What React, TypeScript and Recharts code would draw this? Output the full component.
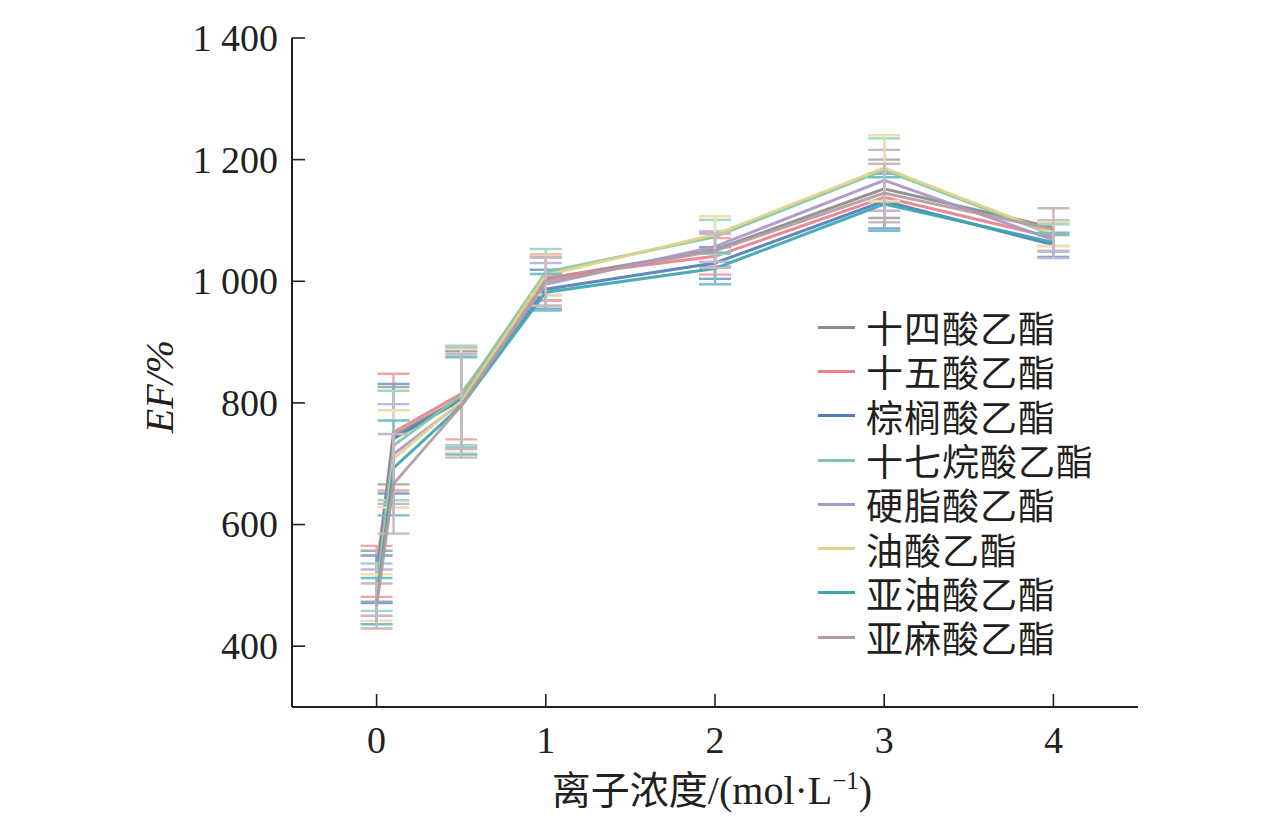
import React from 'react';
import { LineChart, Line, XAxis, YAxis, ErrorBar, Legend } from 'recharts';

// ion concentration (mol/L)
const concentrations = [0, 0.1, 0.5, 1, 2, 3, 4];

const seriesNames = [
  '十四酸乙酯',
  '十五酸乙酯',
  '棕榈酸乙酯',
  '十七烷酸乙酯',
  '硬脂酸乙酯',
  '油酸乙酯',
  '亚油酸乙酯',
  '亚麻酸乙酯',
];

const seriesColors = ['#8a8a8a', '#e8808a', '#4f7fb5', '#7fc7a8', '#a896c8', '#e2d18a', '#3aa6b2', '#b49aa2'];

// EF values
const c14 = [515, 746, 808, 1004, 1052, 1152, 1088];
const c15 = [523, 752, 815, 1006, 1041, 1138, 1072];
const c16 = [510, 741, 805, 987, 1030, 1132, 1060];
const c17 = [497, 730, 812, 1015, 1073, 1183, 1076];
const c18 = [488, 716, 800, 995, 1057, 1166, 1068];
const c181 = [480, 708, 803, 1010, 1077, 1186, 1078];
const c182 = [474, 693, 795, 982, 1021, 1127, 1064];
const c183 = [466, 667, 795, 1000, 1050, 1145, 1085];

// standard deviations
const e14 = [42, 80, 78, 35, 28, 48, 12];
const e15 = [42, 96, 75, 38, 30, 55, 22];
const e16 = [39, 90, 80, 32, 26, 45, 20];
const e17 = [39, 90, 82, 38, 28, 52, 18];
const e18 = [38, 82, 76, 35, 25, 50, 30];
const e181 = [38, 80, 85, 32, 30, 54, 20];
const e182 = [38, 78, 80, 30, 26, 44, 15];
const e183 = [37, 82, 85, 40, 28, 48, 35];

const xTicks = [0, 1, 2, 3, 4];
const yTicks = [400, 600, 800, 1000, 1200, 1400];

const values = [c14, c15, c16, c17, c18, c181, c182, c183];
const errors = [e14, e15, e16, e17, e18, e181, e182, e183];

const data = concentrations.map((x, i) => {
  const row: Record<string, number> = { x };
  values.forEach((v, s) => {
    row[`s${s}`] = v[i];
    row[`e${s}`] = errors[s][i];
  });
  return row;
});

const serif = '"Liberation Serif", "Times New Roman", serif';
const cjk = '"Noto Sans CJK SC", sans-serif';
const ink = '#231f20';

// paler tone for the error bars
const lighten = (hex: string, t: number) => {
  const n = parseInt(hex.slice(1), 16);
  const ch = [(n >> 16) & 255, (n >> 8) & 255, n & 255].map((c) => Math.round(c + (255 - c) * t));
  return `rgb(${ch.join(',')})`;
};

const fmtY = (v: number) => (v >= 1000 ? `${Math.floor(v / 1000)} ${String(v % 1000).padStart(3, '0')}` : String(v));

const YTick = (props: any) => {
  const { x, y, payload } = props;
  return (
    <g>
      <line x1={x + 14} x2={x + 27} y1={y} y2={y} stroke={ink} strokeWidth={1.6} />
      <text x={x} y={y} dy="0.34em" textAnchor="end" fontFamily={serif} fontSize={38} fill={ink}>
        {fmtY(payload.value)}
      </text>
    </g>
  );
};

const XTick = (props: any) => {
  const { x, y, payload } = props;
  return (
    <g>
      <line x1={x} x2={x} y1={y - 20} y2={y - 33} stroke={ink} strokeWidth={1.6} />
      <text x={x} y={y} dy="0.68em" textAnchor="middle" fontFamily={serif} fontSize={38} fill={ink}>
        {payload.value}
      </text>
    </g>
  );
};

const XLabel = (props: any) => {
  const { viewBox } = props;
  const cx = viewBox.x + viewBox.width / 2 - 3;
  return (
    <text x={cx} y={viewBox.y + 97} textAnchor="middle" fill={ink} fontSize={39}>
      <tspan fontFamily={cjk}>离子浓度</tspan>
      <tspan fontFamily={serif} fontSize={40}>/(mol·L</tspan>
      <tspan fontFamily={serif} fontSize={25} dy={-15}>−1</tspan>
      <tspan fontFamily={serif} fontSize={40} dy={15}>)</tspan>
    </text>
  );
};

const YLabel = (props: any) => {
  const { viewBox } = props;
  const cx = viewBox.x + 21;
  const cy = viewBox.y + viewBox.height / 2 + 14;
  return (
    <text
      x={cx}
      y={cy}
      textAnchor="middle"
      transform={`rotate(-90 ${cx} ${cy})`}
      fontFamily={serif}
      fontStyle="italic"
      fontSize={40}
      fill={ink}
    >
      EF/%
    </text>
  );
};

const renderLegend = (props: any) => {
  const { payload } = props;
  const items = [...payload].sort((a: any, b: any) => seriesNames.indexOf(a.value) - seriesNames.indexOf(b.value));
  return (
    <div style={{ fontFamily: cjk, fontSize: 37, color: ink }}>
      {items.map((p: any) => (
        <div key={p.value} style={{ display: 'flex', alignItems: 'center', height: 44.3 }}>
          <span style={{ width: 37, height: 3, background: p.color, marginRight: 11, display: 'inline-block' }} />
          <span style={{ lineHeight: '44px', letterSpacing: 1 }}>{p.value}</span>
        </div>
      ))}
    </div>
  );
};

export default function App() {
  return (
    <div style={{ position: 'absolute', left: 0, top: 0, width: 1276, height: 817, background: '#fff' }}>
      <LineChart width={1276} height={817} data={data} margin={{ top: 38, right: 138, bottom: 50, left: 152 }}>
        <XAxis
          dataKey="x"
          type="number"
          domain={[-0.5, 4.5]}
          ticks={xTicks}
          tickSize={0}
          tickMargin={20}
          tick={<XTick />}
          tickLine={false}
          height={60}
          axisLine={{ stroke: ink, strokeWidth: 2 }}
          label={<XLabel />}
          allowDataOverflow
        />
        <YAxis
          type="number"
          domain={[300, 1400]}
          ticks={yTicks}
          tickSize={0}
          tickMargin={14}
          tick={<YTick />}
          tickLine={false}
          width={140}
          axisLine={{ stroke: ink, strokeWidth: 2 }}
          label={<YLabel />}
          allowDataOverflow
        />
        <Legend
          layout="vertical"
          align="center"
          verticalAlign="middle"
          content={renderLegend}
          wrapperStyle={{ left: 818, top: 305, width: 320 }}
        />
        {seriesNames.map((name, s) => (
          <Line
            key={name}
            name={name}
            dataKey={`s${s}`}
            type="linear"
            stroke={seriesColors[s]}
            strokeWidth={3}
            strokeOpacity={0.92}
            dot={false}
            activeDot={false}
            isAnimationActive={false}
          >
            <ErrorBar
              dataKey={`e${s}`}
              direction="y"
              width={16}
              stroke={lighten(seriesColors[s], 0.3)}
              strokeWidth={2.4}
              isAnimationActive={false}
            />
          </Line>
        ))}
      </LineChart>
    </div>
  );
}
